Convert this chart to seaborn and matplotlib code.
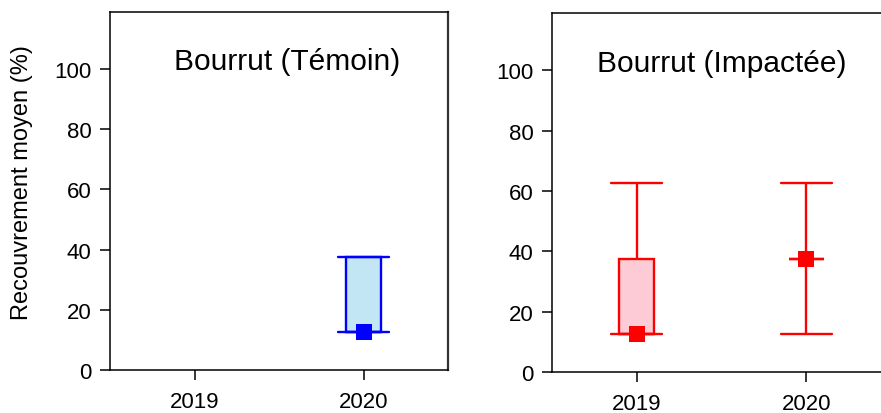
import matplotlib
matplotlib.use("Agg")
import matplotlib.pyplot as plt
import seaborn as sns
import pandas as pd

# ---- data (cover-class values, %) ----
years = ["2019", "2020"]
temoin_2019 = []
temoin_2020 = [12.5, 12.5, 12.5, 37.5, 37.5]
impactee_2019 = [12.5, 12.5, 12.5, 37.5, 62.5]
impactee_2020 = [12.5, 37.5, 37.5, 37.5, 62.5]
titles = ["Bourrut (Témoin)", "Bourrut (Impactée)"]
ylabel = "Recouvrement moyen (%)"
yticks = [0, 20, 40, 60, 80, 100]

def frame(v19, v20):
    return pd.DataFrame({
        "annee": ["2019"] * len(v19) + ["2020"] * len(v20),
        "valeur": list(v19) + list(v20),
    })

df_t = frame(temoin_2019, temoin_2020)
df_i = frame(impactee_2019, impactee_2020)

sns.set_style("ticks")
plt.rcParams["font.family"] = ["Liberation Sans", "DejaVu Sans"]

fig = plt.figure(figsize=(8.81, 4.14), dpi=100)
W, H = 881, 414
ax1 = fig.add_axes([110 / W, (H - 371) / H, 338 / W, 358 / H])
ax2 = fig.add_axes([552 / W, (H - 373) / H, 339 / W, 359 / H])

panels = [
    (ax1, df_t, "#0000FF", "#C2E6F4", (0.525, 0.841)),
    (ax2, df_i, "#FF0000", "#FCCBD5", (0.501, 0.838)),
]

for (ax, df, edge, fill, tpos), title in zip(panels, titles):
    sns.boxplot(data=df, x="annee", y="valeur", order=years, ax=ax,
                color=fill, saturation=1, linecolor=edge, linewidth=1.7,
                width=0.205, whis=(0, 100), showfliers=False, capwidths=0.3)
    sns.pointplot(data=df, x="annee", y="valeur", order=years, ax=ax,
                  estimator="median", errorbar=None, markers="s",
                  linestyles="none", color=edge, markersize=12,
                  markeredgewidth=0, zorder=5)
    ax.set_xlim(-0.5, 1.5)
    ax.set_ylim(0, 119)
    ax.set_yticks(yticks)
    ax.set_xlabel("")
    ax.set_ylabel("")
    for s in ax.spines.values():
        s.set_visible(True)
        s.set_color("black")
        s.set_linewidth(1.1)
    ax.spines["right"].set_color("#333333")
    ax.spines["right"].set_linewidth(1.6)
    ax.tick_params(axis="both", labelsize=16, colors="black", width=1.1,
                   direction="out")
    ax.tick_params(axis="y", length=7.2, pad=6)
    ax.tick_params(axis="x", length=7, pad=8)
    ax.text(tpos[0], tpos[1], title, transform=ax.transAxes, ha="center",
            va="baseline", fontsize=21.5, color="black")

fig.text(22 / W, (H - 182.5) / H, ylabel, rotation=90, ha="center",
         va="center", fontsize=17, color="black")

fig.savefig("out.png", dpi=100)
